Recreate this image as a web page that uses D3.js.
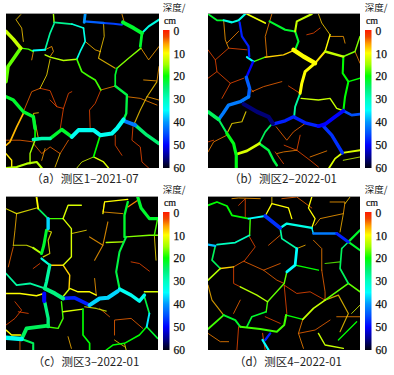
<!DOCTYPE html>
<html><head><meta charset="utf-8">
<script src="https://cdn.jsdelivr.net/npm/d3@7"></script>
<style>html,body{margin:0;padding:0;background:#fff}svg{display:block}</style></head><body>
<svg id="c" width="394" height="375"></svg>
<script>
// each crack: [depth cm, crack width, x,y, x,y, ...] in map units of the survey plot
const depthTicks=[0,10,20,30,40,50,60];
const depthStops=[0,3,6,10,15,20,25,30,35,40,45,50,55,60];
const depthColors=["#ff1a00","#f04800","#ffa000","#ffff00","#a0ff00","#00ff00","#00f070","#00ffc0","#00ffff","#0098ff","#0050ff","#0000ff","#000090","#000010"];
const captions=["（a）测区1–2021-07","（b）测区2–2022-01","（c）测区3–2022-01","（d）测区4–2022-01"];
const cracksA=[
[17,2.6,18,245,24,200,45,170,62,145],[13,2.6,18,95,40,118,62,145],[18,1,62,145,85,148,100,155],[35,1.5,100,152,135,150],
[14,1,135,165,150,172,190,182,230,178],[15,1,160,43,162,68],[27,1.2,162,68,215,73],[32,1.2,215,73,250,85],[28,1.2,162,72,150,100,135,150],
[40,2,255,43,252,68],[44,1.7,252,65,290,68,310,70],[46,1.5,310,70,340,72,365,75],[22,2.8,368,68,400,85,425,100],[33,1.5,425,100,445,80,476,60],
[22,2,425,100,420,140],[16,1,422,145,385,175,350,205],[33,1.2,250,85,255,125,240,155,230,178],[18,1.2,230,178,245,215,265,228,285,240,302,270],
[22,1.2,345,258,345,225,350,205],[23,1.7,345,258,380,285,378,340,370,358],[34,3,370,358,350,385,335,400,300,405,280,390,235,390,215,410],
[22,2.5,215,410,185,388,150,415],[29,2.5,150,415,125,415,100,418],[42,2.8,370,362,405,375],[25,2.5,405,375,440,405,476,430],
[22,2.5,18,290,40,300,70,335,100,350,105,385],[20,1.2,105,385,105,418],[7,1.2,70,340,50,380,30,425,18,435],[20,1.2,300,405,280,470],[12,1,280,470,310,485,325,503],
[15,1,105,420,90,460,90,490],[14,1.5,18,503,50,500,80,490,110,485,125,503],[9,1,18,460,35,480,35,503],
[5,.7,302,270,345,258],[3,.7,302,270,285,310,268,330,270,385],[4,.6,120,265,95,275,70,335],[3,.6,120,265,150,272,170,320,190,325,205,280,215,275],[3,.6,190,325,180,388],[3,.6,170,320,150,300],
[9,.7,150,178,140,225,120,265],[8,.7,62,45,48,60,65,85,70,125],[6,.7,100,155,95,180],[6,.7,135,150,155,140,160,155,150,170],[7,.7,255,125,285,150,300,155],
[8,.8,300,155,295,175,345,205],[8,.7,310,70,312,110,300,155],[6,.7,422,145,445,180,476,140],[6,.7,476,200,470,243,430,240],[8,.8,470,245,440,290,420,330,400,375],
[5,.7,380,290,420,295,470,315],[6,.7,440,290,476,300],[3,.7,398,380,395,420,420,440,425,485,445,503],[3,.6,345,405,345,435,365,465],[4,.7,18,420,60,420,100,425],
[4,.7,100,430,125,460,150,440,180,460,205,420],[6,.7,135,445,125,480],[8,.7,180,460,165,500],[12,.7,230,503,245,485,280,470],[8,.7,115,415,100,340,115,338],[6,.7,365,43,372,68]
];
const cracksB=[
[22,1.3,33,43,60,62,80,62],[33,1.5,80,62,105,68,125,62,145,43],[48,1.6,128,68,135,110,155,140,157,170],[35,1.5,150,172,170,185],[18,1,170,185,205,172],
[50,1.7,168,187,150,228],[44,2.5,148,232,158,265,155,290],[42,2.5,155,290,130,305,95,315,78,340,65,358],[56,3,140,312,180,335,215,350,228,370],
[48,2.5,228,372,265,362,290,350,325,368,365,378],[50,2.7,365,378,385,372,415,350,440,332],[45,2,440,332,465,345,490,342],[47,2.5,380,378,405,405,437,458],
[24,2.6,33,335,65,358],[24,1.5,65,358,90,400],[21,2.3,90,400,110,430,118,465,118,503],[12,2,118,462,150,452,187,430],[23,1.8,187,430,215,450,230,480,240,495],
[24,1.2,187,430,205,395,222,375],[12,1,65,358,50,350],[9,.8,90,400,105,370,135,365,147,335],[5,.7,33,455,50,425,90,405],
[11,1.2,150,43,205,70],[22,1.5,218,65,265,90,295,95,305,125,295,150],[13,1.5,295,95,300,65,345,43],[10,3.2,290,150,320,170,355,190],[10,2.2,355,190,325,215,315,250,310,280],
[28,1.4,310,280,295,320,292,350],[13,1,313,295,365,300,400,295,420,325,440,332],[8,1,205,172,260,165,295,150],[5,.7,210,170,205,110,225,43],
[8,.7,365,43,375,70,400,105],[10,1,400,105,385,155],[13,1.7,385,155,440,170],[20,1.5,440,170,438,220,455,245,445,290,440,332],[20,1,455,245,490,235],
[16,1,440,170,475,155,490,110],[5,.7,475,155,490,190],[9,1.4,355,190,385,155],[6,.7,400,110,440,110,445,130],[3,.6,330,105,350,100,370,85],
[3,.7,33,150,55,180,95,145,150,150],[3,.7,55,180,60,215,33,235],[3,.7,60,215,100,250,140,235],[3,.7,100,250,75,295],[4,.7,165,275,200,260,255,245],[3,.6,275,258,310,280],
[4,.7,158,265,170,275],[6,.7,80,62,85,120,95,145],[5,.7,90,130,125,95],[4,.7,238,380,270,420,290,395,325,370],[3,.7,262,435,300,450,340,480,365,500],
[3,.7,300,450,310,405],[5,.7,300,450,260,455,240,460],[5,.7,340,470,390,452],[3,.7,235,455,260,490],[12,1.3,397,503,415,475,437,458,490,450],[13,.8,440,480,490,470],[3,.7,33,425,50,420]
];
const cracksC=[
[10,1.3,110,35,115,70],[24,1.2,115,70,145,100],[37,2.5,145,100,145,130],[22,2.2,140,135,132,180,125,205],[18,1,145,100,190,100],[12,1,190,100,205,60,245,60],
[10,.8,18,70,50,85,110,68],[7,.7,50,85,45,135,40,180],[11,.8,40,180,80,180,100,188],[14,1.4,100,188,125,205],[32,1.6,125,220,150,240],[28,2.4,150,240,140,290,135,310],
[28,1.3,18,265,50,300,90,295,135,310],[26,3,135,310,165,325,190,340],[48,2.7,190,340,225,338,265,358],[37,3,270,360,300,340,325,338,355,318],[34,2.5,360,312,395,330,420,348,435,330],
[10,1,18,325,60,325,110,332,132,325],[50,3,133,325,133,348],[26,2.4,135,352,145,400,145,425],[24,2.8,145,422,80,430,65,462],[34,3.2,18,458,65,462],[24,1.5,65,462,100,475,100,495],[10,1,18,435,35,450,62,450],
[18,1,140,425,175,430,190,400,185,350],[12,1,190,380,250,372],[20,1.2,250,372,250,450,270,475,270,495],[10,1,210,310,235,320,270,320,290,330],[13,1,185,340,210,310],[6,.7,290,330,285,280],
[8,1,150,240,190,240,210,270,208,310],[12,1,190,100,215,130,215,215,190,240],[9,.7,215,145,260,135],[8,.7,125,205,100,188],[10,.8,140,135,155,140,145,165,150,205,130,215],
[23,1.5,360,310,350,260,360,200,380,155],[22,1.7,375,155,375,90,385,50],[16,1,380,155,450,150,475,150],[14,1,320,172,370,170],[6,.8,270,155,310,180,285,225],[6,.8,310,180,325,110],
[6,.7,315,50,310,80,370,85],[10,.9,310,85,315,50,385,42],[22,2.3,415,35,425,68,450,100,475,100],[5,.9,385,65,415,45],[18,1,475,100,465,150],[9,.7,465,150,470,225],
[3,.6,395,230,420,235,450,258],[3,.6,100,250,120,235],[4,.6,40,185,25,245],[3,.7,18,420,45,400,65,375,45,350],[3,.6,55,380,85,385],
[12,.8,255,365,290,370,320,378],[4,.7,300,370,330,395],[12,1,435,320,475,320],[23,1.2,435,335,450,385],[36,1.4,450,385,442,425],[20,1.1,442,425,420,450,375,475,340,480,320,495],[22,1.1,442,425,475,460],
[4,.7,345,450,345,405,395,400,430,430],[8,.7,345,465,375,485],[7,.7,205,455,215,490],[10,.7,375,475,380,495],[4,.6,60,465,60,495]
];
const cracksD=[
[20,1.3,33,60,60,50,90,62,105,90,155,100],[35,1.4,155,100,205,92],[47,2.7,205,92,250,128],[33,1.7,250,128,270,115,345,128],[42,1.8,350,145,420,145],[48,2.2,420,145,455,170],
[22,1.6,455,170,490,135],[22,1.5,455,170,490,195],[18,1,160,100,158,150],[30,1.2,158,150,115,172,60,178],[38,1.6,33,178,55,182],[24,1.2,55,182,45,225,70,250],[14,1.2,70,250,33,285],
[8,1,70,250,110,245],[28,1.2,250,128,255,160,300,190],[35,2,300,190,295,240,270,260],[20,1,295,240,365,255],[17,1,270,260,262,295,212,350],[18,1,212,350,208,380],[22,1.2,208,380,165,395,150,425],
[14,1,130,305,180,330,212,350],[3,.7,110,245,110,295,130,305],[4,.7,110,245,140,228,200,255,240,285,262,295],[4,.7,200,255,250,235],[7,.8,33,300,45,345,80,390],[18,1.3,80,390,33,432],
[22,1.4,80,390,115,405,130,425],[18,1.5,130,425,190,432,240,440,262,420,268,390],[20,1,268,390,318,403],[13,1.2,318,403,350,370,385,345],[17,1.1,385,345,455,295,490,320],
[24,1.2,435,190,430,250,455,295],[26,1,435,190,455,170],[36,1,345,128,350,145],[4,.7,375,255,385,320,385,345],[17,.8,385,235,430,230],[5,.7,350,165,375,190,375,255],[7,.7,300,190,325,180],
[3,.7,155,150,175,185,140,230],[4,.7,250,150,215,180],[3,.7,262,300,270,385,265,395],[3,.7,262,300,300,325,340,320,385,345],[3,.7,125,60,145,40,145,95],[6,.7,105,40,125,38,190,40],
[10,.9,205,92,225,55,275,68,285,100],[8,.7,225,55,225,35],[4,.7,255,40,300,35,345,68],[10,.9,345,35,335,68,355,100,345,128],[6,.7,355,120,370,100,440,85,445,50,400,50],[7,.7,440,85,430,140],[8,.7,445,55,460,35],
[48,1.7,220,445,205,465],[35,1.6,197,465,215,495],[3,.8,197,445,205,495],[5,.7,33,445,70,470,95,470],[3,.7,125,425,120,495],[4,.7,110,385,130,345],
[3,.7,205,395,250,415],[5,.7,318,403,305,445,320,490],[4,.7,305,445,355,435,400,405],[13,1,365,445,385,480,440,490],[20,.9,425,465,480,410],[8,.8,385,345,425,330,455,385,430,440],[5,.7,420,395,490,395],[12,.7,465,385,490,360]
];
const panels=[
 {data:cracksA,x:[6,159],y:[14,168],domX:[18,476],domY:[43,503],barX:163,barY:30,capX:85,capY:183},
 {data:cracksB,x:[208,360],y:[14,168],domX:[33,490],domY:[43,503],barX:365,barY:30,capX:283,capY:183},
 {data:cracksC,x:[6,158],y:[197,350],domX:[18,476],domY:[35,495],barX:163,barY:212,capX:86,capY:366},
 {data:cracksD,x:[208,360],y:[197,350],domX:[33,490],domY:[35,495],barX:365,barY:212,capX:288,capY:366}
];
const svg=d3.select("#c");
const color=d3.scaleLinear().domain(depthStops).range(depthColors).clamp(true);
const widthScale=d3.scaleLinear().domain([.7,3]).range([1,4.1]);
const defs=svg.append("defs");
const g=defs.append("linearGradient").attr("id","bar").attr("x1",0).attr("x2",0).attr("y1",0).attr("y2",1);
depthStops.forEach(d=>g.append("stop").attr("offset",d/60).attr("stop-color",color(d)));
const serif="'Liberation Serif',serif", cjk="'Noto Sans CJK SC',sans-serif";
panels.forEach((p,i)=>{
  const sx=d3.scaleLinear().domain(p.domX).range(p.x), sy=d3.scaleLinear().domain(p.domY).range(p.y);
  const cid="clip"+i;
  defs.append("clipPath").attr("id",cid).append("rect").attr("x",p.x[0]).attr("y",p.y[0]).attr("width",p.x[1]-p.x[0]).attr("height",p.y[1]-p.y[0]);
  svg.append("rect").attr("x",p.x[0]).attr("y",p.y[0]).attr("width",p.x[1]-p.x[0]).attr("height",p.y[1]-p.y[0]).attr("fill","#000");
  svg.append("line").attr("x1",p.x[0]).attr("x2",p.x[1]).attr("y1",p.y[0]-.5).attr("y2",p.y[0]-.5).attr("stroke","#999");
  const line=d3.line().x(d=>sx(d[0])).y(d=>sy(d[1])).curve(d3.curveLinear);
  const pts=c=>d3.range(2,c.length,2).map(k=>[c[k],c[k+1]]);
  svg.append("g").attr("clip-path",`url(#${cid})`).selectAll("path")
    .data(p.data.slice().sort((a,b)=>a[1]-b[1])).join("path")
    .attr("d",c=>line(pts(c))).attr("fill","none").attr("stroke",c=>color(c[0])).attr("stroke-width",c=>widthScale(Math.max(c[1],.7))).attr("stroke-opacity",c=>c[1]<=.8?.8:1).attr("stroke-linecap","round").attr("stroke-linejoin","round");
  const barH=p.y[1]-p.barY;
  svg.append("rect").attr("x",p.barX).attr("y",p.barY).attr("width",6.5).attr("height",barH).attr("fill","url(#bar)");
  const sd=d3.scaleLinear().domain([0,60]).range([p.barY+.5,p.y[1]-.5]);
  const ax=svg.append("g").attr("transform",`translate(${p.barX+6.5},0)`).call(d3.axisRight(sd).tickValues(depthTicks).tickSize(0).tickPadding(4));
  ax.select(".domain").remove();
  ax.selectAll("text").attr("font-family",serif).attr("font-size",11.5).attr("fill","#111").attr("stroke","#111").attr("stroke-width",.25);
  svg.append("text").attr("x",p.barX+11).attr("y",p.barY-19).attr("text-anchor","middle").attr("font-family",cjk).attr("font-size",9.5).attr("fill","#222").text("深度/");
  svg.append("text").attr("x",p.barX+7).attr("y",p.barY-6).attr("text-anchor","middle").attr("font-family",serif).attr("font-size",10).attr("stroke","#111").attr("stroke-width",.2).attr("fill","#111").text("cm");
  svg.append("text").attr("x",p.capX).attr("y",p.capY).attr("text-anchor","middle").attr("font-family",cjk+","+serif).attr("font-size",11.5).attr("fill","#222").text(captions[i]);
});
</script></body></html>
